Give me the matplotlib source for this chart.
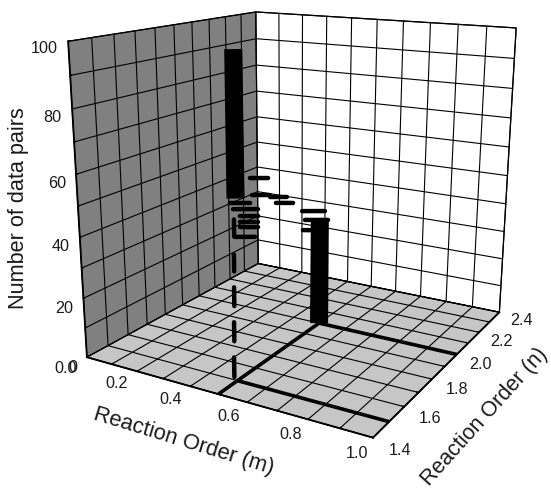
import matplotlib
matplotlib.use('Agg')
import matplotlib.pyplot as plt
import numpy as np

m_ticks = np.arange(0, 1.01, 0.1)
n_ticks = np.arange(1.4, 2.41, 0.1)
z_ticks = np.arange(0, 101, 10)
m_labels = ['0.0', '0.2', '0.4', '0.6', '0.8', '1.0']
n_labels = ['1.4', '1.6', '1.8', '2.0', '2.2', '2.4']
z_labels = ['0', '20', '40', '60', '80', '100']

# tall columns and dashes at m=0.5: n, z from, z to
col_n = [1.505, 2.0, 1.484, 1.487, 1.49, 1.492, 1.495]
col_z0 = [57.1, 0.0, 1.9, 13.4, 24.5, 35.3, 45.9]
col_z1 = [100.0, 37.3, 8.3, 19.5, 30.4, 40.5, 51.1]

# short flat dashes: m from, n from, m to, n to, z
dash_m0 = [0.477, 0.477, 0.478, 0.477, 0.475, 0.469, 0.477, 0.477, 0.477, 0.475, 0.468, 0.467, 0.49]
dash_n0 = [1.616, 1.626, 1.726, 1.761, 1.513, 1.537, 1.56, 1.56, 1.56, 1.536, 1.938, 1.958, 1.906]
dash_m1 = [0.523, 0.523, 0.522, 0.523, 0.525, 0.531, 0.523, 0.523, 0.523, 0.525, 0.532, 0.533, 0.51]
dash_n1 = [1.643, 1.653, 1.752, 1.787, 1.542, 1.574, 1.587, 1.586, 1.586, 1.566, 1.976, 1.996, 1.917]
dash_z = [60.3, 54.8, 51.7, 48.9, 55.2, 52.6, 50.0, 48.2, 46.6, 44.2, 41.4, 37.8, 36.1]

# lines on the floor
floor_m0 = [0.5, 0.5, 0.5]
floor_n0 = [1.4, 1.5, 2.0]
floor_m1 = [0.5, 1.0, 1.0]
floor_n1 = [2.0, 1.5, 2.0]

plt.rcParams['font.family'] = ['Liberation Sans', 'DejaVu Sans']
plt.rcParams['grid.color'] = 'black'
plt.rcParams['grid.linewidth'] = 0.8

S, CX, CY = 2842.89, 304.87, 190.01
W = 0.185 * S


def main():
  fig = plt.figure(figsize=(5.51, 4.88), dpi=100)
  ax = fig.add_axes([(CX - 0.095 * S) / 551, (488 - CY - 0.095 * S) / 488, W / 551, W / 488],
                    projection='3d')
  ax.set_xlim(0, 1)
  ax.set_ylim(1.4, 2.4)
  ax.set_zlim(0, 100)
  ax.view_init(elev=15.5704, azim=-60.2898, roll=-0.19894)
  ax.set_proj_type('persp', focal_length=0.35501)
  ax.set_box_aspect((1, 1.00795, 0.99136))
  ax.patch.set_alpha(0)

  ax.set_xticks(m_ticks)
  ax.set_yticks(n_ticks)
  ax.set_zticks(z_ticks)
  ax.set_xticklabels([])
  ax.set_yticklabels([])
  ax.set_zticklabels([])
  ax.zaxis.set_ticks_position('lower')
  for axis, col in ((ax.xaxis, '#808080'), (ax.yaxis, 'white'), (ax.zaxis, '#c6c6c6')):
    axis.set_pane_color(col)
    axis.pane.set_edgecolor('black')
    axis.pane.set_linewidth(0.9)
    axis.line.set_linewidth(1.3)
    axis.line.set_color('black')
    axis._axinfo['tick']['inward_factor'] = 0.0
    axis._axinfo['tick']['outward_factor'] = 0.07
    axis._axinfo['tick']['linewidth'] = {True: 1.0, False: 1.0}
    # the empty label objects only sit in the way
    axis.label.set_visible(False)
    axis.get_offset_text().set_visible(False)
    for t in axis.get_ticklabels():
      t.set_visible(False)
  for t in (ax.title, ax._left_title, ax._right_title):
    t.set_visible(False)

  for a, b, c, d in zip(floor_m0, floor_n0, floor_m1, floor_n1):
    ax.plot([a, c], [b, d], [0, 0], color='black', lw=2.6, solid_capstyle='butt')
  for n, z0, z1 in zip(col_n[:2], col_z0[:2], col_z1[:2]):
    ax.plot([0.5, 0.5], [n, n], [z0, z1], color='black', lw=13, solid_capstyle='butt')
  for n, z0, z1 in zip(col_n[2:], col_z0[2:], col_z1[2:]):
    ax.plot([0.5, 0.5], [n, n], [z0, z1], color='black', lw=3.2, solid_capstyle='round')
  for a, b, c, d, z in zip(dash_m0, dash_n0, dash_m1, dash_n1, dash_z):
    ax.plot([a, c], [b, d], [z, z], color='black', lw=3.2, solid_capstyle='round')

  txt = '#1a1a1a'
  for m, s in zip(m_ticks[::2], m_labels):
    ax.text(m, 1.305, 0.0, s, ha='center', va='center', fontsize=11.6, color=txt)
  for n, s in zip(n_ticks[::2], n_labels):
    ax.text(1.08, n, -1.5, s, ha='center', va='center', fontsize=11.6, color=txt)
  for z, s in zip(z_ticks[::2], z_labels):
    ax.text(0.005, 1.35, z - 1.5, s, ha='right', va='center', fontsize=11.6, color=txt)

  fig.text(19 / 551, 1 - 208 / 488, 'Number of data pairs', rotation=90, ha='center', va='center',
           fontsize=15.6, color=txt)
  fig.text(184 / 551, 1 - 441 / 488, 'Reaction Order (m)', rotation=-17, ha='center', va='center',
           fontsize=15.8, color=txt)
  fig.text(485 / 551, 1 - 417 / 488, 'Reaction Order (n)', rotation=48, ha='center', va='center',
           fontsize=15.5, color=txt)

  fig.savefig('out.png', dpi=100)


if __name__ == '__main__':
  main()
